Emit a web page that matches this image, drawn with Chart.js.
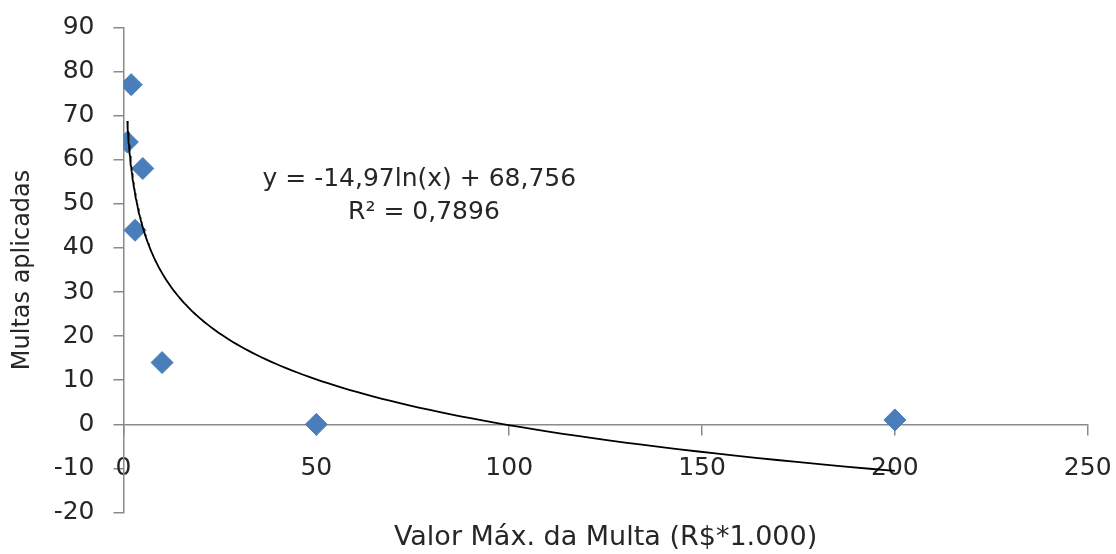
<!DOCTYPE html>
<html>
<head>
<meta charset="utf-8">
<script src="https://cdn.jsdelivr.net/npm/chart.js@4.4.1/dist/chart.umd.min.js"></script>
<style>
  html, body { margin: 0; padding: 0; background: #ffffff; }
  #wrap { width: 1116px; height: 554px; position: relative; }
</style>
</head>
<body>
<div id="wrap"><canvas id="chart"></canvas></div>
<script>
// Maximum fine value (R$ x 1.000) and number of fines applied
const valorMax = [1, 2, 3, 5, 10, 50, 200];
const multasAplicadas = [64, 77, 44, 58, 14, 0, 1];

// Logarithmic trend line: y = slope * ln(x) + intercept
const trendSlope = -14.97;
const trendIntercept = 68.756;
const trendEquation = 'y = -14,97ln(x) + 68,756';
const trendR2 = 'R² = 0,7896';

// Axis tick values
const xTicks = [0, 50, 100, 150, 200, 250];
const yTicks = [-20, -10, 0, 10, 20, 30, 40, 50, 60, 70, 80, 90];

const TEXT = '#262626';
const AXIS = '#8a8a8a';
const FONT = '"DejaVu Sans", sans-serif';

// Trend curve sampled on a log-spaced grid over the data range
const xLo = Math.min(...valorMax), xHi = Math.max(...valorMax);
const trendPoints = [];
for (let i = 0; i <= 160; i++) {
  const xv = Math.exp(Math.log(xLo) + (Math.log(xHi) - Math.log(xLo)) * i / 160);
  trendPoints.push({ x: xv, y: trendSlope * Math.log(xv) + trendIntercept });
}

const scatterPoints = valorMax.map((v, i) => ({ x: v, y: multasAplicadas[i] }));

// Draws the trend equation and R² text inside the plot
const equationPlugin = {
  id: 'equationLabel',
  afterDatasetsDraw(chart, args, opts) {
    const { ctx, scales: { x, y } } = chart;
    ctx.save();
    ctx.font = opts.font;
    ctx.fillStyle = opts.color;
    ctx.textAlign = 'center';
    ctx.textBaseline = 'middle';
    opts.lines.forEach(l => {
      ctx.fillText(l.text, x.getPixelForValue(l.at[0]), y.getPixelForValue(l.at[1]));
    });
    ctx.restore();
  }
};

new Chart(document.getElementById('chart'), {
  type: 'scatter',
  data: {
    datasets: [
      {
        type: 'line',
        label: 'Tendência',
        data: trendPoints,
        borderColor: '#000000',
        borderWidth: 1.8,
        pointRadius: 0,
        tension: 0,
        fill: false
      },
      {
        label: 'Multas aplicadas',
        data: scatterPoints,
        pointStyle: 'rectRot',
        pointRadius: 11,
        pointHoverRadius: 11,
        backgroundColor: '#4a7ebb',
        borderColor: '#4a7ebb',
        borderWidth: 1
      }
    ]
  },
  options: {
    responsive: true,
    maintainAspectRatio: false,
    animation: false,
    events: [],
    layout: { padding: { left: 0, top: 27.3, right: 28.3, bottom: 0 } },
    plugins: {
      legend: { display: false },
      tooltip: { enabled: false },
      title: {
        display: true,
        position: 'bottom',
        fullSize: false,
        text: 'Valor Máx. da Multa (R$*1.000)',
        color: TEXT,
        font: { family: FONT, size: 27, weight: 'normal' },
        padding: { top: 9, bottom: 0 }
      },
      equationLabel: {
        font: '25px ' + FONT,
        color: TEXT,
        lines: [
          { text: trendEquation, at: [76.7, 55.6] },
          { text: trendR2, at: [77.9, 48.0] }
        ]
      }
    },
    scales: {
      x: {
        type: 'linear',
        position: { y: 0 },
        min: xTicks[0],
        max: xTicks[xTicks.length - 1],
        afterBuildTicks: s => { s.ticks = xTicks.map(v => ({ value: v })); },
        afterFit: s => { s.paddingLeft = 0; s.paddingRight = 0; },
        grid: { drawOnChartArea: false, drawTicks: true, tickLength: 10, color: AXIS, lineWidth: 1.5 },
        border: { display: true, color: AXIS, width: 1.5 },
        ticks: {
          color: TEXT,
          padding: 19,
          maxRotation: 0,
          font: { family: FONT, size: 25 },
          callback: v => String(v)
        }
      },
      y: {
        type: 'linear',
        position: 'left',
        min: yTicks[0],
        max: yTicks[yTicks.length - 1],
        afterBuildTicks: s => { s.ticks = yTicks.map(v => ({ value: v })); },
        afterFit: s => { s.width = 123.5; s.paddingTop = 0; s.paddingBottom = 0; },
        grid: { drawOnChartArea: false, drawTicks: true, tickLength: 10, color: AXIS, lineWidth: 1.5 },
        border: { display: true, color: AXIS, width: 1.5 },
        ticks: {
          color: TEXT,
          padding: 19,
          font: { family: FONT, size: 25 },
          callback: v => String(v)
        },
        title: {
          display: true,
          text: 'Multas aplicadas',
          color: TEXT,
          font: { family: FONT, size: 24 },
          padding: { top: 8, bottom: 0 }
        }
      }
    }
  },
  plugins: [equationPlugin]
});
</script>
</body>
</html>
